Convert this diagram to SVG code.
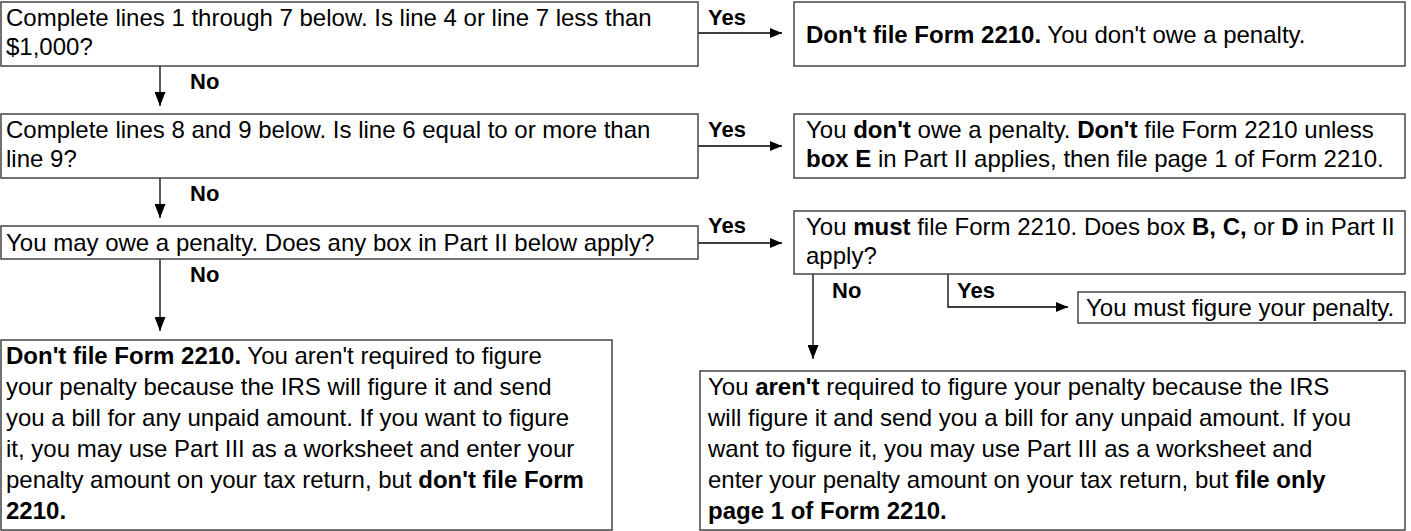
<svg xmlns="http://www.w3.org/2000/svg" width="1411" height="531" viewBox="0 0 1411 531">
<defs>
<style>
.box{fill:#fff;stroke:#444;stroke-width:1.5}
.t{font-family:"Liberation Sans",Arial,Helvetica,sans-serif;font-size:24px;fill:#000}
.b{font-weight:bold}
.lbl{font-family:"Liberation Sans",Arial,Helvetica,sans-serif;font-size:22px;font-weight:bold;fill:#000}
.c{fill:none;stroke:#000;stroke-width:1.3}
</style>
<marker id="ah" viewBox="0 0 12 10" refX="12" refY="5" markerWidth="12" markerHeight="10" markerUnits="userSpaceOnUse" orient="auto">
<path d="M0,0 L12,5 L0,10 Z" fill="#000"/>
</marker>
<marker id="ahd" viewBox="0 0 14 11" refX="14" refY="5.5" markerWidth="14" markerHeight="11" markerUnits="userSpaceOnUse" orient="auto">
<path d="M0,0 L14,5.5 L0,11 Z" fill="#000"/>
</marker>
</defs>
<rect width="1411" height="531" fill="#fff"/>

<g id="connectors">
<line class="c" x1="698" y1="33" x2="782" y2="33" marker-end="url(#ah)"/>
<line class="c" x1="698" y1="146" x2="782" y2="146" marker-end="url(#ah)"/>
<line class="c" x1="698" y1="243" x2="782" y2="243" marker-end="url(#ah)"/>
<line class="c" x1="160" y1="66" x2="160" y2="106" marker-end="url(#ahd)"/>
<line class="c" x1="160" y1="178" x2="160" y2="218" marker-end="url(#ahd)"/>
<line class="c" x1="160" y1="259" x2="160" y2="331" marker-end="url(#ahd)"/>
<line class="c" x1="813" y1="274" x2="813" y2="359" marker-end="url(#ahd)"/>
<polyline class="c" points="948,274 948,307 1068,307" marker-end="url(#ah)"/>
<text class="lbl" x="708" y="25">Yes</text>
<text class="lbl" x="708" y="137">Yes</text>
<text class="lbl" x="708" y="233">Yes</text>
<text class="lbl" x="190" y="89">No</text>
<text class="lbl" x="190" y="201">No</text>
<text class="lbl" x="190" y="282">No</text>
<text class="lbl" x="832" y="298">No</text>
<text class="lbl" x="957" y="298">Yes</text>
</g>

<g id="q1">
<rect class="box" x="1" y="2" width="697" height="64"/>
<text class="t" x="6" y="26">Complete lines 1 through 7 below. Is line 4 or line 7 less than</text>
<text class="t" x="6" y="55">$1,000?</text>
</g>
<g id="a1">
<rect class="box" x="794" y="2" width="611" height="64"/>
<text class="t" x="806" y="43"><tspan class="b">Don't file Form 2210.</tspan> You don't owe a penalty.</text>
</g>
<g id="q2">
<rect class="box" x="1" y="114" width="697" height="64"/>
<text class="t" x="6" y="138">Complete lines 8 and 9 below. Is line 6 equal to or more than</text>
<text class="t" x="6" y="167">line 9?</text>
</g>
<g id="a2">
<rect class="box" x="794" y="114" width="611" height="64"/>
<text class="t" x="806" y="138">You <tspan class="b">don't</tspan> owe a penalty. <tspan class="b">Don't</tspan> file Form 2210 unless</text>
<text class="t" x="806" y="167"><tspan class="b">box E</tspan> in Part II applies, then file page 1 of Form 2210.</text>
</g>
<g id="q3">
<rect class="box" x="1" y="226" width="697" height="33"/>
<text class="t" x="6" y="251">You may owe a penalty. Does any box in Part II below apply?</text>
</g>
<g id="q4">
<rect class="box" x="794" y="211" width="611" height="63"/>
<text class="t" x="806" y="235">You <tspan class="b">must</tspan> file Form 2210. Does box <tspan class="b">B, C,</tspan> or <tspan class="b">D</tspan> in Part II</text>
<text class="t" x="806" y="264">apply?</text>
</g>
<g id="a4">
<rect class="box" x="1078" y="292" width="327" height="31"/>
<text class="t" x="1086" y="316">You must figure your penalty.</text>
</g>
<g id="a3">
<rect class="box" x="1" y="340" width="611" height="190"/>
<text class="t" x="6" y="364"><tspan class="b">Don't file Form 2210.</tspan> You aren't required to figure</text>
<text class="t" x="6" y="395">your penalty because the IRS will figure it and send</text>
<text class="t" x="6" y="426">you a bill for any unpaid amount. If you want to figure</text>
<text class="t" x="6" y="457">it, you may use Part III as a worksheet and enter your</text>
<text class="t" x="6" y="488">penalty amount on your tax return, but <tspan class="b">don't file Form</tspan></text>
<text class="t" x="6" y="519"><tspan class="b">2210.</tspan></text>
</g>
<g id="a5">
<rect class="box" x="700" y="371" width="705" height="159"/>
<text class="t" x="708" y="395">You <tspan class="b">aren't</tspan> required to figure your penalty because the IRS</text>
<text class="t" x="708" y="426">will figure it and send you a bill for any unpaid amount. If you</text>
<text class="t" x="708" y="457">want to figure it, you may use Part III as a worksheet and</text>
<text class="t" x="708" y="488">enter your penalty amount on your tax return, but <tspan class="b">file only</tspan></text>
<text class="t" x="708" y="519"><tspan class="b">page 1 of Form 2210.</tspan></text>
</g>
</svg>
